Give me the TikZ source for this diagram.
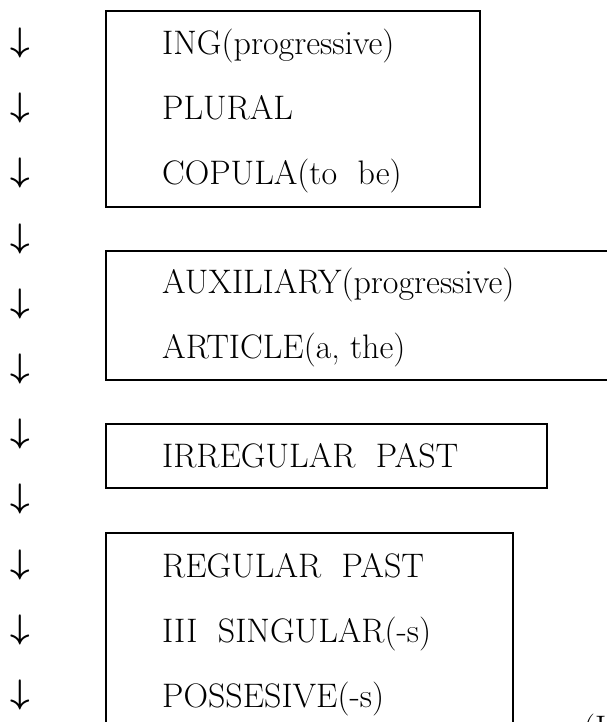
\RequirePackage{fix-cm}
\documentclass[tikz,border=0pt]{standalone}
\begin{document}
\begin{tikzpicture}[x=1pt,y=-1pt,
  lab/.style={anchor=base west,inner sep=0pt,font=\fontsize{34}{40}\selectfont},
  arr/.style={inner sep=0pt,font=\fontsize{34}{40}\selectfont\boldmath},
  box/.style={draw,line width=1.4pt}]
\useasboundingbox (0,0) rectangle (607,722);
\clip (0,0) rectangle (607,722);
% arrows
\foreach \k in {1,...,11}{
  \node[arr] (a\k) at (20,{43+65.2*(\k-1)}) {$\downarrow$};
}
% boxes
\draw[box] (106,11) rectangle (480,207);
\draw[box] (106,251) rectangle (640,380);
\draw[box] (106,424) rectangle (547,488);
\draw[box] (106,533) rectangle (513,760);
% texts
\node[lab] (t1) at (162,55) {ING(progressive)};
\node[lab] (t2) at (162,120) {PLURAL};
\node[lab] (t3) at (162,185) {COPULA(to\ \ be)};
\node[lab] (t4) at (162,293) {AUXILIARY(progressive)};
\node[lab] (t5) at (162,358) {ARTICLE(a, the)};
\node[lab] (t6) at (162,467) {IRREGULAR\ \ PAST};
\node[lab] (t7) at (162,577) {REGULAR\ \ PAST};
\node[lab] (t8) at (162,642) {III\ \ SINGULAR(-s)};
\node[lab] (t9) at (162,707) {POSSESIVE(-s)};
\node[lab] (src) at (583,739) {(I};
\end{tikzpicture}
\end{document}
